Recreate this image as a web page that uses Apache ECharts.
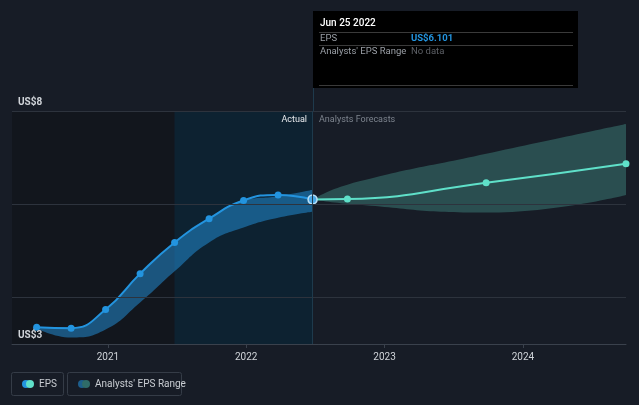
<!DOCTYPE html>
<html>
<head>
<meta charset="utf-8">
<script src="https://cdn.jsdelivr.net/npm/echarts@6/dist/echarts.min.js"></script>
<style>
html,body{margin:0;padding:0;background:#171c26;}
#chart{width:639px;height:405px;}
</style>
</head>
<body>
<div id="chart"></div>
<script>
// ---- data ----
var actualDates = ['2020-06-27','2020-09-26','2020-12-26','2021-03-27','2021-06-26','2021-09-25','2021-12-25','2022-03-26','2022-06-25'];
var actualEps   = [3.36, 3.34, 3.74, 4.51, 5.18, 5.69, 6.08, 6.20, 6.101];
var actualLow   = [3.34, 3.14, 3.31, 3.89, 4.56, 5.18, 5.50, 5.71, 5.84];
var actualHigh  = [3.36, 3.36, 3.74, 4.51, 5.18, 5.69, 6.08, 6.17, 6.31];

var forecastDates = ['2022-06-25','2022-09-25','2023-09-26','2024-09-29'];
var forecastEps   = [6.101, 6.11, 6.46, 6.87];
var forecastLow   = [6.101, 6.01, 5.82, 6.20];
var forecastHigh  = [6.101, 6.42, 7.08, 7.72];

var yTickLabels = {3: 'US$3', 8: 'US$8'};
var gridValues = [4, 6, 8];
var xMin = '2020-04-23', xMax = '2024-09-29';
var pastEnd = '2021-06-26', nowDate = '2022-06-25';

function pairs(d, v) { return d.map(function (x, i) { return [x, v[i]]; }); }
function diffs(d, lo, hi) { return d.map(function (x, i) { return [x, +(hi[i] - lo[i]).toFixed(3)]; }); }

var chart = echarts.init(document.getElementById('chart'));
var font = 'Roboto, "Noto Sans", sans-serif';

var option = {
  backgroundColor: '#171c26',
  animation: false,
  textStyle: { fontFamily: font },
  grid: { left: 12, right: 13, top: 111, bottom: 61 },
  xAxis: {
    type: 'time', min: xMin, max: xMax, z: 10,
    minInterval: 365 * 86400000, maxInterval: 366 * 86400000,
    axisLine: { lineStyle: { color: '#3a414c' } },
    axisTick: { show: true, length: 4, lineStyle: { color: '#3a414c' } },
    axisLabel: { color: '#d0d4d9', fontSize: 10, margin: 8, formatter: '{yyyy}', showMinLabel: false, showMaxLabel: false, fontFamily: font },
    splitLine: { show: false }
  },
  yAxis: {
    type: 'value', min: 3, max: 8, interval: 1, z: 10,
    axisLine: { show: false }, axisTick: { show: false },
    splitLine: { show: false },
    axisLabel: {
      inside: true, margin: 6, verticalAlign: 'bottom', padding: [0, 0, 4, 0],
      color: '#d0d4d9', fontSize: 10, fontWeight: 'bold', fontFamily: font,
      formatter: function (v) { return yTickLabels[v] || ''; }
    }
  },
  series: [
    { // background regions + gridlines
      type: 'line', data: [], silent: true, z: 1,
      markArea: {
        silent: true,
        data: [
          [{ xAxis: xMin, yAxis: 3, itemStyle: { color: '#12161d' } }, { xAxis: pastEnd, yAxis: 8 }],
          [{ xAxis: pastEnd, yAxis: 3, itemStyle: { color: '#0d2231' } }, { xAxis: nowDate, yAxis: 8 }]
        ]
      },
      markLine: {
        silent: true, symbol: 'none', label: { show: false },
        lineStyle: { color: '#2d333d', width: 1, type: 'solid' },
        data: gridValues.map(function (v) { return { yAxis: v }; }).concat([
          { xAxis: nowDate, lineStyle: { color: '#1e3a4c', width: 1 } }
        ])
      }
    },
    { name: 'actLow', type: 'line', stack: 'act', smooth: true, symbol: 'none', silent: true,
      lineStyle: { opacity: 0 }, data: pairs(actualDates, actualLow) },
    { name: "Analysts' EPS Range", type: 'line', stack: 'act', smooth: true, symbol: 'none', silent: true,
      lineStyle: { opacity: 0 }, areaStyle: { color: '#2394df', opacity: 0.5 },
      data: diffs(actualDates, actualLow, actualHigh) },
    { name: 'fcLow', type: 'line', stack: 'fc', smooth: true, symbol: 'none', silent: true,
      lineStyle: { opacity: 0 }, data: pairs(forecastDates, forecastLow) },
    { name: 'fcRange', type: 'line', stack: 'fc', smooth: true, symbol: 'none', silent: true,
      lineStyle: { opacity: 0 }, areaStyle: { color: '#5fe0c9', opacity: 0.26 },
      data: diffs(forecastDates, forecastLow, forecastHigh) },
    { name: 'Forecast', type: 'line', smooth: true, symbol: 'circle', symbolSize: 7,
      lineStyle: { color: '#5fe0c9', width: 2 }, itemStyle: { color: '#5fe0c9' },
      data: pairs(forecastDates, forecastEps) },
    { name: 'EPS', type: 'line', smooth: true, symbol: 'circle', symbolSize: 7,
      lineStyle: { color: '#2394df', width: 2 }, itemStyle: { color: '#2394df' },
      data: pairs(actualDates, actualEps).map(function (p, i, arr) {
        if (i === arr.length - 1) {
          return { value: p, symbolSize: 9, itemStyle: { color: '#4aa8e6', borderColor: '#b9e0f8', borderWidth: 1.5 } };
        }
        return p;
      }) }
  ],
  graphic: [
    { type: 'line', z: 100, shape: { x1: 313.5, y1: 88, x2: 313.5, y2: 111 }, style: { stroke: '#1e3a4c', lineWidth: 1 }, silent: true },
    { type: 'text', z: 100, style: { x: 307, y: 120, text: 'Actual', align: 'right', verticalAlign: 'middle', fill: '#e8eaed', font: '9px ' + font } },
    { type: 'text', z: 100, style: { x: 319, y: 120, text: 'Analysts Forecasts', align: 'left', verticalAlign: 'middle', fill: '#7d848e', font: '9px ' + font } },
    // tooltip
    { type: 'group', z: 100, left: 313, top: 11, children: [
      { type: 'rect', shape: { x: 0, y: 0, width: 265, height: 77 }, style: { fill: '#000000' } },
      { type: 'text', style: { x: 7, y: 12, text: 'Jun 25 2022', verticalAlign: 'middle', fill: '#ffffff', font: '500 10px ' + font } },
      { type: 'line', shape: { x1: 6, y1: 21.5, x2: 260, y2: 21.5 }, style: { stroke: '#3a3a3a', lineWidth: 1 } },
      { type: 'text', style: { x: 7, y: 28, text: 'EPS', verticalAlign: 'middle', fill: '#9a9fa6', font: '9.5px ' + font } },
      { type: 'text', style: { x: 98, y: 28, text: 'US$6.101', verticalAlign: 'middle', fill: '#2394df', font: 'bold 9.5px ' + font } },
      { type: 'line', shape: { x1: 6, y1: 34.5, x2: 260, y2: 34.5 }, style: { stroke: '#3a3a3a', lineWidth: 1 } },
      { type: 'text', style: { x: 7, y: 41, text: "Analysts' EPS Range", verticalAlign: 'middle', fill: '#9a9fa6', font: '9.5px ' + font } },
      { type: 'text', style: { x: 98, y: 41, text: 'No data', verticalAlign: 'middle', fill: '#5d6066', font: '9.5px ' + font } },
      { type: 'line', shape: { x1: 6, y1: 74.5, x2: 260, y2: 74.5 }, style: { stroke: '#3a3a3a', lineWidth: 1 } }
    ] },
    // legend
    { type: 'group', z: 100, left: 11, top: 372, children: [
      { type: 'rect', shape: { x: 0.5, y: 0.5, width: 52, height: 23, r: 2 }, style: { fill: 'transparent', stroke: '#353c47', lineWidth: 1 } },
      { type: 'circle', shape: { cx: 15, cy: 12, r: 4 }, style: { fill: '#2394df' } },
      { type: 'circle', shape: { cx: 19, cy: 12, r: 4 }, style: { fill: '#5fe0c9' } },
      { type: 'text', style: { x: 28, y: 12, text: 'EPS', verticalAlign: 'middle', fill: '#c9cdd2', font: '10px ' + font } },
      { type: 'rect', shape: { x: 56.5, y: 0.5, width: 114, height: 23, r: 2 }, style: { fill: 'transparent', stroke: '#353c47', lineWidth: 1 } },
      { type: 'circle', shape: { cx: 71, cy: 12, r: 4 }, style: { fill: '#1d5e8c' } },
      { type: 'circle', shape: { cx: 75, cy: 12, r: 4 }, style: { fill: '#2f6b68' } },
      { type: 'text', style: { x: 84, y: 12, text: "Analysts' EPS Range", verticalAlign: 'middle', fill: '#c9cdd2', font: '10px ' + font } }
    ] }
  ]
};
chart.setOption(option);
</script>
</body>
</html>
